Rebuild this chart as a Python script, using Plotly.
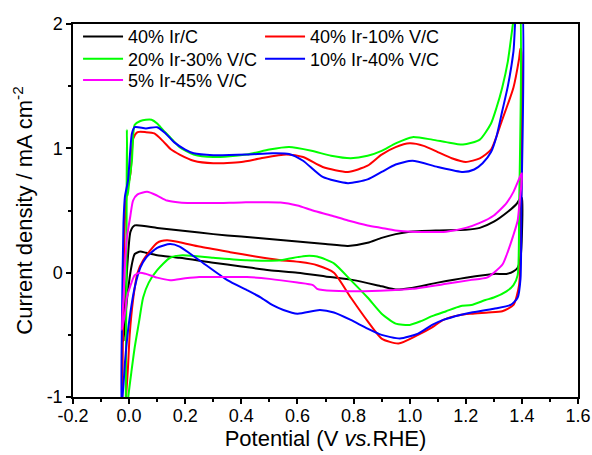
import plotly.graph_objects as go

# ---- data (potential in V vs RHE, current density in mA cm^-2) ----
names = ["40% Ir/C", "40% Ir-10% V/C", "20% Ir-30% V/C", "10% Ir-40% V/C", "5% Ir-45% V/C"]
colors = ["#000000", "#FF0000", "#00FF00", "#0000FF", "#FF00FF"]
legend_rows = ["legend", "legend", "legend2", "legend2", "legend3"]

black_x = [-0.02, -0.015, -0.005, 0.005, 0.02, 0.1, 0.2, 0.3, 0.4, 0.5, 0.6, 0.7, 0.78, 0.85, 0.9, 0.95,
           1.0, 1.1, 1.2, 1.25, 1.3, 1.35, 1.38, 1.395,
           1.4, 1.4, 1.395, 1.385, 1.37, 1.345, 1.3, 1.2, 1.1, 1.0, 0.95, 0.9, 0.8, 0.7, 0.6, 0.5, 0.4,
           0.3, 0.18, 0.1, 0.06, 0.04, 0.02, 0.01, -0.007, -0.015, -0.02]
black_y = [-0.55, -0.3, 0.1, 0.33, 0.38, 0.36, 0.335, 0.31, 0.29, 0.27, 0.25, 0.23, 0.215, 0.24, 0.28, 0.31,
           0.33, 0.34, 0.345, 0.36, 0.41, 0.49, 0.55, 0.6,
           0.6, 0.3, 0.12, 0.04, 0.01, -0.01, -0.01, -0.04, -0.08, -0.125, -0.135, -0.11, -0.06, -0.03, 0.0,
           0.02, 0.05, 0.08, 0.12, 0.14, 0.16, 0.17, 0.15, 0.07, -0.2, -0.4, -0.55]

red_x = [-0.025, -0.022, -0.018, -0.012, -0.005, 0.005, 0.015, 0.03, 0.06, 0.09, 0.12, 0.15, 0.18, 0.23,
         0.3, 0.4, 0.47, 0.56, 0.62, 0.69, 0.78, 0.85, 0.9, 0.95, 1.0, 1.05, 1.1, 1.15, 1.2, 1.25, 1.29,
         1.33, 1.37, 1.39, 1.395,
         1.397, 1.397, 1.39, 1.37, 1.33, 1.28, 1.22, 1.18, 1.12, 1.08, 1.03, 0.96, 0.9, 0.85, 0.79, 0.73,
         0.67, 0.61, 0.54, 0.45, 0.36, 0.25, 0.18, 0.135, 0.1, 0.05, 0.03, 0.014, 0.002, -0.004, -0.011, -0.015]
red_y = [-1.1, -0.5, 0.2, 0.55, 0.68, 0.8, 1.08, 1.13, 1.13, 1.12, 1.06, 0.99, 0.95, 0.9, 0.88, 0.89,
         0.92, 0.95, 0.93, 0.85, 0.81, 0.86, 0.95, 1.01, 1.04, 1.02, 0.97, 0.92, 0.89, 0.92, 0.99, 1.23,
         1.49, 1.72, 1.8,
         1.8, 0.5, -0.1, -0.26, -0.31, -0.32, -0.33, -0.34, -0.38, -0.44, -0.5, -0.57, -0.53, -0.39, -0.2,
         0.0, 0.06, 0.085, 0.1, 0.13, 0.165, 0.21, 0.245, 0.26, 0.24, 0.1, 0.0, -0.22, -0.5, -0.76, -1.0, -1.1]

green_x = [-0.012, -0.01, -0.009, -0.008, -0.005, 0.0, 0.01, 0.02, 0.04, 0.06, 0.08, 0.1, 0.12, 0.146,
           0.18, 0.23, 0.3, 0.42, 0.5, 0.57, 0.65, 0.72, 0.79, 0.85, 0.9, 0.95, 1.01, 1.08, 1.13, 1.19,
           1.25, 1.29, 1.31, 1.33, 1.35, 1.368, 1.38,
           1.39, 1.39, 1.385, 1.37, 1.345, 1.3, 1.27, 1.22, 1.18, 1.13, 1.08, 1.04, 1.0, 0.95, 0.9, 0.85,
           0.79, 0.73, 0.67, 0.63, 0.6, 0.54, 0.42, 0.3, 0.19, 0.146, 0.1, 0.07, 0.05, 0.035, 0.02, 0.008,
           -0.003, -0.006]
green_y = [-1.1, -0.2, 0.45, 1.15, 0.62, 0.72, 0.9, 1.19, 1.22, 1.23, 1.23, 1.2, 1.15, 1.09, 1.01, 0.95,
           0.93, 0.95, 0.99, 1.01, 0.98, 0.94, 0.92, 0.94, 0.98, 1.04, 1.09, 1.07, 1.05, 1.03, 1.07, 1.2,
           1.33, 1.49, 1.7, 2.0, 2.2,
           2.2, 0.5, -0.02, -0.1, -0.15, -0.2, -0.22, -0.26, -0.27, -0.31, -0.35, -0.39, -0.42, -0.41,
           -0.33, -0.2, -0.06, 0.075, 0.13, 0.135, 0.125, 0.1, 0.1, 0.12, 0.14, 0.12, 0.02, -0.08, -0.2,
           -0.4, -0.6, -0.8, -1.0, -1.1]

blue_x = [-0.028, -0.025, -0.02, -0.015, -0.004, 0.01, 0.02, 0.06, 0.1, 0.13, 0.16, 0.2, 0.23, 0.3,
          0.42, 0.51, 0.57, 0.62, 0.69, 0.78, 0.85, 0.9, 0.95, 1.01, 1.1, 1.19, 1.23, 1.26, 1.29, 1.31,
          1.33, 1.35, 1.37, 1.385,
          1.398, 1.398, 1.395, 1.385, 1.36, 1.3, 1.22, 1.18, 1.12, 1.08, 1.03, 0.965, 0.9, 0.85, 0.79,
          0.73, 0.68, 0.6, 0.55, 0.51, 0.47, 0.42, 0.35, 0.25, 0.18, 0.146, 0.1, 0.06, 0.04, 0.02, 0.004,
          -0.008, -0.015, -0.02, -0.028]
blue_y = [-1.1, -0.3, 0.4, 0.61, 0.74, 1.12, 1.17, 1.16, 1.17, 1.12, 1.05, 0.99, 0.96, 0.945, 0.95, 0.96,
          0.955, 0.9, 0.77, 0.72, 0.75, 0.81, 0.87, 0.9, 0.85, 0.81, 0.83, 0.88, 0.97, 1.1, 1.3, 1.5,
          1.78, 2.2,
          2.2, 0.5, -0.05, -0.2, -0.26, -0.29, -0.32, -0.34, -0.38, -0.42, -0.49, -0.53, -0.5, -0.45,
          -0.38, -0.32, -0.3, -0.33, -0.3, -0.26, -0.2, -0.14, -0.06, 0.1, 0.21, 0.23, 0.2, 0.12, 0.04,
          -0.12, -0.33, -0.55, -0.73, -0.9, -1.1]

magenta_x = [-0.026, -0.02, -0.015, -0.008, 0.004, 0.014, 0.03, 0.064, 0.1, 0.135, 0.18, 0.3, 0.4, 0.54,
             0.6, 0.655, 0.72, 0.78, 0.85, 0.9, 0.95, 1.01, 1.13, 1.2, 1.25, 1.3, 1.345, 1.37, 1.393, 1.4,
             1.398, 1.393, 1.385, 1.368, 1.35, 1.332, 1.3, 1.275, 1.215, 1.13, 1.01, 0.894, 0.776, 0.69,
             0.67, 0.655, 0.6, 0.5, 0.42, 0.3, 0.25, 0.2, 0.146, 0.1, 0.06, 0.04, 0.02, 0.004, -0.008,
             -0.015, -0.022, -0.026]
magenta_y = [-0.46, -0.2, 0.04, 0.28, 0.45, 0.58, 0.63, 0.65, 0.62, 0.58, 0.565, 0.56, 0.565, 0.565,
             0.54, 0.5, 0.46, 0.42, 0.38, 0.36, 0.34, 0.33, 0.33, 0.36, 0.4, 0.46, 0.56, 0.65, 0.77, 0.8,
             0.7, 0.6, 0.42, 0.29, 0.17, 0.07, 0.0, -0.04, -0.06, -0.09, -0.13, -0.145, -0.15, -0.14,
             -0.13, -0.1, -0.08, -0.05, -0.035, -0.035, -0.035, -0.045, -0.06, -0.04, -0.01, 0.0, -0.02,
             -0.11, -0.2, -0.33, -0.42, -0.46]

x_tickvals = [-0.2, 0.0, 0.2, 0.4, 0.6, 0.8, 1.0, 1.2, 1.4, 1.6]
x_ticktext = ["-0.2", "0.0", "0.2", "0.4", "0.6", "0.8", "1.0", "1.2", "1.4", "1.6"]
y_tickvals = [-1, 0, 1, 2]
y_ticktext = ["-1", "0", "1", "2"]

series_x = [black_x, red_x, green_x, blue_x, magenta_x]
series_y = [black_y, red_y, green_y, blue_y, magenta_y]

FONT = "Liberation Sans, Arial, sans-serif"

fig = go.Figure()
for name, col, xs, ys, lg in zip(names, colors, series_x, series_y, legend_rows):
    fig.add_trace(go.Scatter(x=xs, y=ys, mode="lines", name=name, legend=lg,
                             line=dict(color=col, width=2, shape="spline", smoothing=0.6)))

axis_common = dict(showline=True, linecolor="black", linewidth=1.5, mirror=True,
                   ticks="outside", tickcolor="black", tickwidth=1.5, ticklen=5,
                   showgrid=False, zeroline=False, automargin=False,
                   tickfont=dict(family=FONT, size=18, color="black"))

fig.update_xaxes(range=[-0.2, 1.6], tickmode="array", tickvals=x_tickvals, ticktext=x_ticktext,
                 ticklabelstandoff=-3,
                 minor=dict(ticks="outside", ticklen=3, tickwidth=1.5, tickcolor="black",
                            tickmode="linear", tick0=-0.2, dtick=0.1),
                 title=dict(text="Potential (V <i>vs.</i>RHE)", font=dict(family=FONT, size=22, color="black"),
                            standoff=0),
                 **axis_common)
fig.update_yaxes(range=[-1, 2], tickmode="array", tickvals=y_tickvals, ticktext=y_ticktext,
                 minor=dict(ticks="outside", ticklen=3, tickwidth=1.5, tickcolor="black",
                            tickmode="linear", tick0=-1, dtick=0.5),
                 title=dict(text="Current density / mA cm<sup>-2</sup>",
                            font=dict(family=FONT, size=22, color="black"), standoff=8),
                 **axis_common)

leg_common = dict(orientation="h", x=0.01, xanchor="left", yanchor="middle",
                  entrywidth=127, entrywidthmode="pixels", bgcolor="rgba(0,0,0,0)",
                  font=dict(family=FONT, size=18, color="black"), itemwidth=40)

fig.update_layout(
    width=592, height=455,
    margin=dict(l=73, r=14, t=24, b=58),
    paper_bgcolor="white", plot_bgcolor="white",
    font=dict(family=FONT, color="black"),
    showlegend=True,
    legend=dict(y=0.966, **leg_common),
    legend2=dict(y=0.906, **leg_common),
    legend3=dict(y=0.849, **leg_common),
)

fig.write_html("out.html")
